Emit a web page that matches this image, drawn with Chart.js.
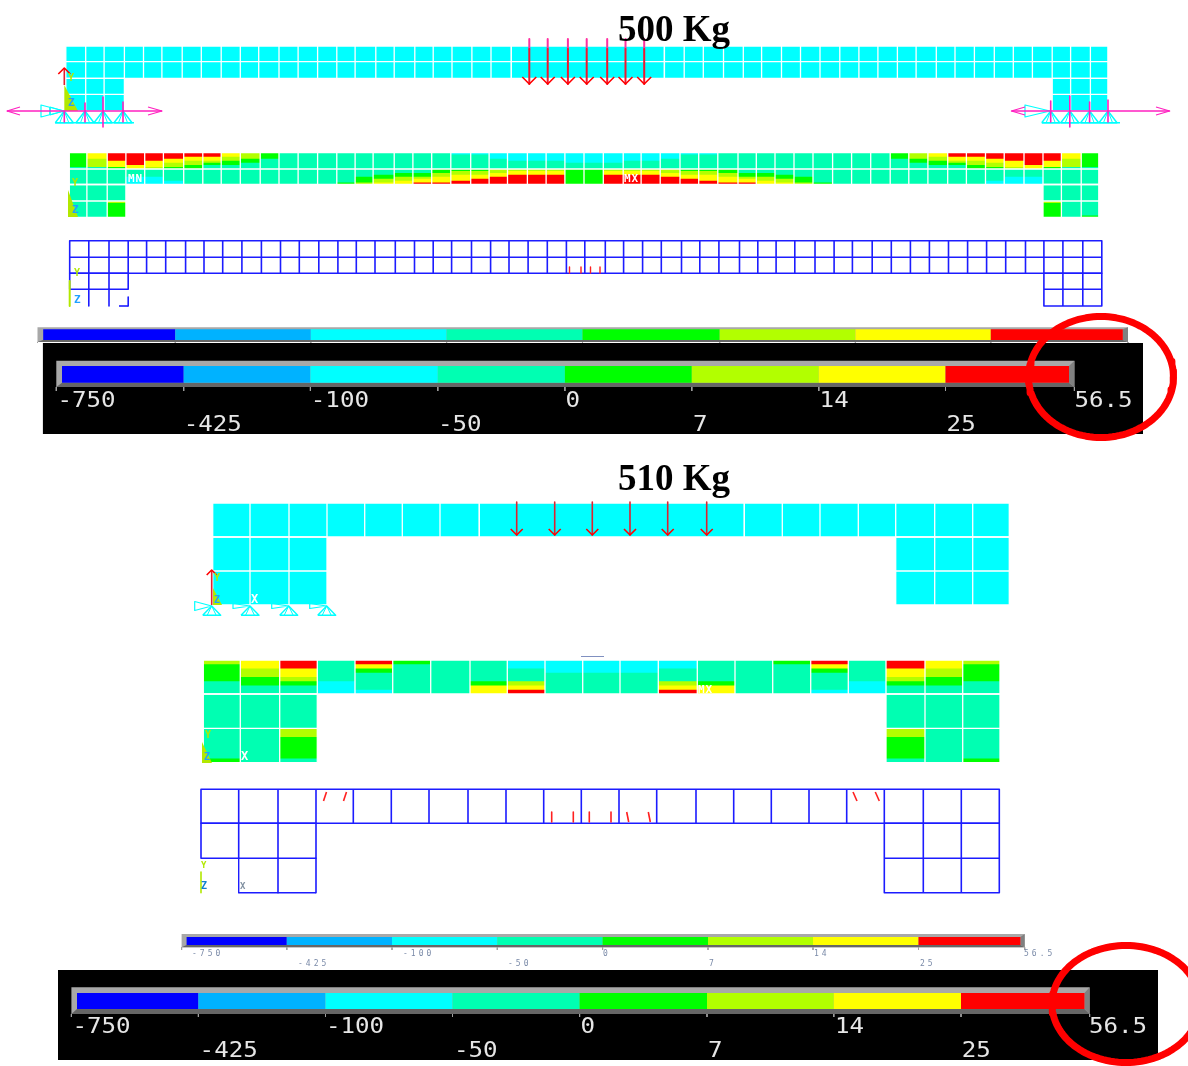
<!DOCTYPE html>
<html>
<head>
<meta charset="utf-8">
<title>500 Kg / 510 Kg</title>
<script src="https://cdn.jsdelivr.net/npm/chart.js@4"></script>
<style>
  html, body { margin: 0; background: #fff; overflow: hidden; }
  canvas { display: block; }
</style>
</head>
<body>
<canvas id="plot" width="1188" height="1066"></canvas>
<script>
// contour legend
const levelColors = ["#0000ff", "#00b2ff", "#00ffff", "#00ffb2", "#00ff00", "#b2ff00", "#ffff00", "#ff0000"];
const levelLabels = ["-750", "-425", "-100", "-50", "0", "7", "14", "25", "56.5"];

// T = a cell that is all level 3. each string is one cell, 8 slices top to bottom, digit = legend level
const T = "33333333";

const contour500Top = ["44444443", "66655553", "77776664", "77777766", "77776665", "77766554", "77665544", "77665433", "66554433", "55544333", "44433333",
    T, T, T, T, T, T, T, T, T,
    "23333333", "23333333", "22233333", "22223333", "22223333", "22223333", "22222333", "22222333", "22222333", "22223333", "22223333", "22233333", "23333333", "23333333",
    T, T, T, T, T, T, T, T, T,
    "44433333", "55544333", "66554433", "77665433", "77665544", "77766554", "77776665", "77777766", "77776664", "66655553", "44444443"];
const contour500Bottom = [T, T, T, "33332222", "33332222", "33333322", T, T, T, T, T, T, T, T,
    "33333334", "33334445", "33344556", "33445566", "33445667", "44556667", "45566677", "45566777", "55667777", "56677777", "56677777", "56677777",
    "44444444", "44444444",
    "56677777", "56677777", "56677777", "55667777", "45566777", "45566677", "44556667", "33445667", "33445566", "33344556", "33334445", "33333334",
    T, T, T, T, T, T, T, T, "33333322", "33332222", "33332222", T, T, T];
const contour500LegLeft = [[T, T, T], [T, T, "54444444"]];
const contour500LegRight = [[T, T, T], ["54444444", T, "33333334"]];

const contour510Top = ["54444333", "66554433", "77665433", "33333222", "76433332", "43333333", T, "33333466", "22333567", "22233333", "22233333",
    "22233333", "22333567", "33333466", T, "43333333", "76433332", "33333222", "77665433", "66554433", "54444333"];
const contour510LegLeft = [[T, T, T], ["33333334", T, "55444443"]];
const contour510LegRight = [[T, T, T], ["55444443", T, "33333334"]];

// cell edges
const solid500X = [65.8, 85.7, 104.1, 124.4, 143.5, 161.9, 182.2, 201.3, 221.2, 240.3, 258.7, 279, 298.1, 317.6, 336.8, 355.1, 375.8, 394.2, 414.8, 433.2, 452, 471.9, 491, 511.3,
    664.4, 684.2, 703.3, 723.5, 743.3, 761.6, 781.5, 800.5, 820, 839.8, 858.9, 877.9, 897.4, 916.1, 936.3, 955, 974.4, 994.3, 1013.3, 1032.4, 1052.2, 1070.6, 1090.4, 1107.9];
const solid500Y = [46, 61.7, 78.3, 94.3, 111];
const contour500X = [69.3, 86.9, 107.2, 125.9, 144.7, 163.4, 183.7, 202.8, 221.2, 240.3, 260.2, 279, 298.1, 317.6, 336.8, 355.1, 373.1, 394.2, 412.9, 431.7, 450.8, 470.7, 489.1, 507.5, 527.4, 546.1, 564.9, 584,
    603.3, 623.2, 641.1, 660.2, 680, 698.7, 717.8, 738, 756.3, 775, 794, 813, 832.6, 851.6, 870.7, 890.2, 908.8, 927.9, 947.7, 966.4, 985.5, 1004.2, 1024, 1043, 1061.4, 1081.2, 1098.8];
const contour500Y = [152.5, 169, 184.5, 201, 217.5];
const mesh500X = [69.7, 88.8, 109, 128.2, 146.6, 165.7, 185.6, 204, 222.7, 241.9, 261.4, 280.5, 299.3, 318.8, 337.9, 356.3, 375, 395.3, 414.5, 433.2, 451.6, 471.5, 490.6, 509, 528.1, 547.3, 566.4, 584.8,
    605.3, 623.6, 642.6, 661.3, 681.5, 699.8, 718.9, 739.5, 757.8, 776.1, 794.8, 815, 834.1, 852.4, 872.2, 891.3, 910.4, 929.4, 948.5, 967.6, 986.6, 1005.7, 1025.5, 1043.9, 1062.9, 1082.8, 1101.8];
const mesh500Y = [240.7, 257.3, 273.3, 289.3, 306];

const solid510X = [212.7, 250, 289, 327, 364.7, 402.3, 440, 479.3, 744.3, 782.3, 820, 858.3, 895.7, 934.7, 972.7, 1009.3];
const solid510Y = [503, 537, 571, 605];
const contour510X = [203.3, 240.3, 279.7, 317.3, 355, 392.7, 430.7, 470, 507.3, 545, 582.7, 620, 658.3, 697.3, 735, 772.7, 810.7, 848.3, 886, 925, 962.7, 1000];
const contour510Y = [660, 694, 728.3, 762.7];
const mesh510X = [201, 238.7, 278, 316, 353.3, 391.3, 429, 468, 506, 543.7, 581.3, 619, 656.7, 696, 733.7, 771.3, 809, 846.7, 884.3, 923.3, 961.3, 999.3];
const mesh510Y = [789.3, 823.3, 858.3, 892.7];

// load and support nodes
const load500X = [529.3, 547.7, 567.9, 586.7, 607.2, 625.5, 644.2];
const load510X = [516.7, 554.7, 592.3, 630, 667.7, 706.7];
const support500LeftX = [64.3, 85, 103, 123];
const support500RightX = [1050.7, 1069.8, 1089.6, 1108];
const support510X = [211.7, 250, 288.7, 326.7];

// legend bar breaks
const barTopX = [43.2, 175.3, 310.8, 446.6, 582.5, 719.7, 855.4, 990.8, 1122.8];
const barLowX = [62, 183.7, 310.4, 437.8, 564.9, 691.8, 818.8, 945.5, 1069];
const barSmallX = [186.6, 286.8, 392, 497.3, 602.6, 708, 813, 918.5, 1020.4];
const barLow2X = [77, 198.4, 325.5, 452.5, 579.6, 707, 833.8, 961, 1084.5];

const datasets = [];
const labels = [];
const meshBlue = "#1c1cff";

function stroke(points, color, width) {
    datasets.push({ data: points, showLine: true, borderColor: color, borderWidth: width, pointRadius: 0, fill: false, spanGaps: false, borderCapStyle: "butt", borderJoinStyle: "round" });
}
function polygon(points, color) {
    datasets.push({ data: points.concat([points[0]]), showLine: true, borderWidth: 0, borderColor: "transparent", backgroundColor: color, pointRadius: 0, fill: "shape" });
}
function rect(x0, y0, x1, y1, color) {
    polygon([{ x: x0, y: y0 }, { x: x1, y: y0 }, { x: x1, y: y1 }, { x: x0, y: y1 }], color);
}
function seg(x0, y0, x1, y1, color, width) {
    stroke([{ x: x0, y: y0 }, { x: x1, y: y1 }], color, width);
}
function text(t, x, y, font, color, spacing, stretch) {
    labels.push({ t, x, y, font, color, spacing: spacing || 0, stretch: stretch || 1 });
}

// grid lines of one block, all in one dataset with gaps
function grid(xs, ys, color, width) {
    const pts = [];
    for (const x of xs) {
        pts.push({ x: x, y: ys[0] }, { x: x, y: ys[ys.length - 1] }, { x: null, y: null });
    }
    for (const y of ys) {
        pts.push({ x: xs[0], y: y }, { x: xs[xs.length - 1], y: y }, { x: null, y: null });
    }
    stroke(pts, color, width);
}

// one contour cell: paint each run down to the cell bottom so no seams show
function cell(code, x0, x1, y0, y1) {
    let last = -1;
    for (let i = 0; i < code.length; i++) {
        const level = Number(code[i]);
        if (level !== last) {
            rect(x0, y0 + (y1 - y0) * i / code.length, x1, y1, levelColors[level]);
            last = level;
        }
    }
}
function cellRow(codes, xs, y0, y1) {
    codes.forEach((code, i) => cell(code, xs[i], xs[i + 1], y0, y1));
}

function downArrow(x, y0, y1, head, topColor, beamTop) {
    if (topColor) {
        seg(x, y0, x, beamTop + 3, topColor, 2);
        seg(x, beamTop + 3, x, y1, "#f01830", 2);
    } else {
        seg(x, y0, x, y1, "#e02030", 1.6);
    }
    stroke([{ x: x - head, y: y1 - head }, { x: x, y: y1 }, { x: x + head, y: y1 - head }], "#ff0000", 1.6);
}

function support(x, y0, y1, half) {
    stroke([{ x: x - half, y: y1 }, { x: x, y: y0 }, { x: x + half, y: y1 }, { x: x - half, y: y1 }], "#00ffff", 1.4);
    seg(x - half / 2, y1, x, y0, "#00ffff", 1);
    seg(x + half / 2, y1, x, y0, "#00ffff", 1);
}
function sideSupport(x, y, length, half, width) {
    stroke([{ x: x, y: y }, { x: x - length, y: y - half }, { x: x - length, y: y + half }, { x: x, y: y }], "#00ffff", width);
}

function legendBar(xs, outerLeft, outerRight, outerTop, innerTop, innerBottom, outerBottom, tickEnd) {
    rect(outerLeft, outerTop, outerRight, outerBottom, "#a8a8a8");
    polygon([{ x: outerLeft, y: outerBottom }, { x: xs[0], y: innerBottom }, { x: xs[8], y: innerBottom }, { x: outerRight, y: outerBottom }], "#666666");
    polygon([{ x: outerRight, y: outerTop }, { x: xs[8], y: innerTop }, { x: xs[8], y: innerBottom }, { x: outerRight, y: outerBottom }], "#808080");
    for (let i = 0; i < 8; i++) {
        rect(xs[i], innerTop, xs[i + 1], innerBottom, levelColors[i]);
    }
    const ticks = [];
    [outerLeft].concat(xs.slice(1, 8), [outerRight]).forEach(x => ticks.push({ x: x, y: outerBottom }, { x: x, y: tickEnd }, { x: null, y: null }));
    stroke(ticks, "#a0a0a0", 1);
}
function ring(cx, cy, rx, ry) {
    const pts = [];
    for (let a = 0; a <= 120; a++) {
        pts.push({ x: cx + rx * Math.cos(a * Math.PI / 60), y: cy + ry * Math.sin(a * Math.PI / 60) });
    }
    stroke(pts, "#ff0000", 7);
}

// ---- 500 Kg, solid model
rect(solid500X[0], solid500Y[0], solid500X[47], solid500Y[2], "#00ffff");
rect(solid500X[0], solid500Y[2], solid500X[3], solid500Y[4], "#00ffff");
rect(solid500X[44], solid500Y[2], solid500X[47], solid500Y[4], "#00ffff");
grid(solid500X.slice(0, 24), solid500Y.slice(0, 3), "#ffffff", 1.3);
grid(solid500X.slice(24), solid500Y.slice(0, 3), "#ffffff", 1.3);
// no verticals under the load, the row lines run through
grid(solid500X.slice(23, 25), solid500Y.slice(0, 3), "#ffffff", 1.3);
grid(solid500X.slice(0, 4), solid500Y.slice(2), "#ffffff", 1.3);
grid(solid500X.slice(44), solid500Y.slice(2), "#ffffff", 1.3);
load500X.forEach(x => downArrow(x, 39, 84, 7, "#ff30a0", 46));

// left support
polygon([{ x: 64.3, y: 85 }, { x: 78, y: 111 }, { x: 64.3, y: 111 }], "#b2e800");
downArrow(64.3, 85, 68, -6);
text("Y", 68, 81, "bold 10px 'DejaVu Sans Mono'", "#b2e800");
text("Z", 68, 106, "bold 11px 'DejaVu Sans Mono'", "#20a0ff");
sideSupport(64, 111, 23, 6, 1.2);
sideSupport(64, 111, 14, 4, 1);
seg(55, 122.7, 134, 122.7, "#00ffff", 1.4);
support500LeftX.forEach(x => support(x, 111, 122.7, 9));
[[64.3, 111, 122], [85, 103, 122], [103, 97, 127], [123, 102, 122]].forEach((n, i) => {
    seg(support500LeftX[i], n[1], support500LeftX[i], n[2], "#ff20c0", 1.6);
});
seg(7, 111, 162, 111, "#ff20c0", 1.5);
stroke([{ x: 20, y: 107 }, { x: 7, y: 111 }, { x: 20, y: 115 }], "#ff20c0", 1.2);
stroke([{ x: 148, y: 107 }, { x: 162, y: 111 }, { x: 148, y: 115 }], "#ff20c0", 1.2);

// right support
sideSupport(1050, 111, 25, 6, 1.2);
seg(1042, 122.7, 1120, 122.7, "#00ffff", 1.4);
support500RightX.forEach(x => support(x, 111, 122.7, 9));
[[1050.7, 101, 122], [1069.8, 96, 127], [1089.6, 102, 122], [1108, 100, 122]].forEach(n => {
    seg(n[0], n[1], n[0], n[2], "#ff20c0", 1.6);
});
seg(1011.4, 111, 1169.7, 111, "#ff20c0", 1.5);
stroke([{ x: 1025, y: 107 }, { x: 1011.4, y: 111 }, { x: 1025, y: 115 }], "#ff20c0", 1.2);
stroke([{ x: 1156, y: 107 }, { x: 1169.7, y: 111 }, { x: 1156, y: 115 }], "#ff20c0", 1.2);

// ---- 500 Kg, contour
cellRow(contour500Top, contour500X, contour500Y[0], contour500Y[1]);
cellRow(contour500Bottom, contour500X, contour500Y[1], contour500Y[2]);
contour500LegLeft.forEach((r, i) => cellRow(r, contour500X.slice(0, 4), contour500Y[i + 2], contour500Y[i + 3]));
contour500LegRight.forEach((r, i) => cellRow(r, contour500X.slice(51), contour500Y[i + 2], contour500Y[i + 3]));
grid(contour500X, contour500Y.slice(0, 3), "#ffffff", 1.3);
grid(contour500X.slice(0, 4), contour500Y.slice(2), "#ffffff", 1.3);
grid(contour500X.slice(51), contour500Y.slice(2), "#ffffff", 1.3);
polygon([{ x: 68, y: 190 }, { x: 78, y: 217 }, { x: 68, y: 217 }], "#b2e800");
text("Y", 72, 186, "bold 10px 'DejaVu Sans Mono'", "#b2e800");
text("Z", 72, 213, "bold 11px 'DejaVu Sans Mono'", "#20a0ff");
text("MN", 128, 182, "bold 11px 'DejaVu Sans Mono'", "#ffffff", 1);
text("MX", 624, 182, "bold 11px 'DejaVu Sans Mono'", "#ffffff", 1);

// ---- 500 Kg, mesh with cracks
grid(mesh500X, mesh500Y.slice(0, 3), meshBlue, 1.6);
grid(mesh500X.slice(0, 4), mesh500Y.slice(2, 4), meshBlue, 1.6);
seg(mesh500X[1], mesh500Y[3], mesh500X[1], mesh500Y[4], meshBlue, 1.6);
seg(mesh500X[2], mesh500Y[3], mesh500X[2], mesh500Y[4], meshBlue, 1.6);
seg(mesh500X[3], 297, mesh500X[3], mesh500Y[4], meshBlue, 1.6);
seg(119, mesh500Y[4], mesh500X[3], mesh500Y[4], meshBlue, 1.6);
grid(mesh500X.slice(51), mesh500Y.slice(2), meshBlue, 1.6);
seg(mesh500X[0], 281, mesh500X[0], mesh500Y[4], "#b2e800", 2);
text("Y", 74, 276, "bold 10px 'DejaVu Sans Mono'", "#b2e800");
text("Z", 74, 303, "bold 11px 'DejaVu Sans Mono'", "#20a0ff");
[569.5, 581, 590.5, 600].forEach(x => seg(x, 267, x, 273, "#ff2020", 1.4));

// ---- 500 Kg, legend bars
legendBar(barTopX, 37.5, 1128, 327.3, 329.3, 340, 342, 343);
rect(42.9, 343, 1143, 434, "#000000");
legendBar(barLowX, 56.3, 1074.4, 360.7, 366, 382.7, 387, 391);
levelLabels.forEach((t, i) => {
    const x = [57.4, 183.7, 310.8, 438, 565.6, 693, 819.6, 946.6, 1074.4][i];
    text(t, x, i % 2 ? 431 : 407, "21px 'DejaVu Sans Mono'", "#e6e6e6", 0, 1.15);
});
ring(1101, 377, 72.5, 60.5);

// ---- 510 Kg, solid model
rect(solid510X[0], solid510Y[0], solid510X[15], solid510Y[1], "#00ffff");
rect(solid510X[0], solid510Y[1], solid510X[3], solid510Y[3], "#00ffff");
rect(solid510X[12], solid510Y[1], solid510X[15], solid510Y[3], "#00ffff");
grid(solid510X.slice(0, 8), solid510Y.slice(0, 2), "#ffffff", 1.3);
grid(solid510X.slice(8), solid510Y.slice(0, 2), "#ffffff", 1.3);
grid(solid510X.slice(7, 9), solid510Y.slice(0, 2), "#ffffff", 1.3);
grid(solid510X.slice(0, 4), solid510Y.slice(1), "#ffffff", 1.3);
grid(solid510X.slice(12), solid510Y.slice(1), "#ffffff", 1.3);
load510X.forEach(x => downArrow(x, 502, 535, 6));
polygon([{ x: 213, y: 588 }, { x: 222, y: 605 }, { x: 213, y: 605 }], "#b2e800");
downArrow(211.7, 605, 570, -5);
text("Y", 214, 581, "bold 10px 'DejaVu Sans Mono'", "#b2e800");
text("Z", 214, 603, "bold 10px 'DejaVu Sans Mono'", "#20a0ff");
text("X", 251, 603, "bold 12px 'DejaVu Sans Mono'", "#ffffff");
support510X.forEach((x, i) => {
    support(x, 606, 615.3, 9);
    sideSupport(x, 606, 17, i ? 2.5 : 4.5, 1.2);
});

// ---- 510 Kg, contour
cellRow(contour510Top, contour510X, contour510Y[0], contour510Y[1]);
contour510LegLeft.forEach((r, i) => cellRow(r, contour510X.slice(0, 4), contour510Y[i + 1], contour510Y[i + 2]));
contour510LegRight.forEach((r, i) => cellRow(r, contour510X.slice(18), contour510Y[i + 1], contour510Y[i + 2]));
grid(contour510X, contour510Y.slice(0, 2), "#ffffff", 1.3);
grid(contour510X.slice(0, 4), contour510Y.slice(1), "#ffffff", 1.3);
grid(contour510X.slice(18), contour510Y.slice(1), "#ffffff", 1.3);
polygon([{ x: 202, y: 742 }, { x: 212, y: 763 }, { x: 202, y: 763 }], "#b2e800");
text("Y", 205, 738, "bold 10px 'DejaVu Sans Mono'", "#b2e800");
text("Z", 204, 760, "bold 10px 'DejaVu Sans Mono'", "#20a0ff");
text("X", 241, 760, "bold 12px 'DejaVu Sans Mono'", "#ffffff");
text("MX", 698, 693, "bold 11px 'DejaVu Sans Mono'", "#ffffff", 1);
seg(581, 656.5, 604, 656.5, "#8090c0", 1);

// ---- 510 Kg, mesh with cracks
grid(mesh510X, mesh510Y.slice(0, 2), meshBlue, 1.6);
grid(mesh510X.slice(0, 4), mesh510Y.slice(1, 3), meshBlue, 1.6);
seg(mesh510X[1], mesh510Y[2], mesh510X[1], mesh510Y[3], meshBlue, 1.4);
seg(mesh510X[2], mesh510Y[2], mesh510X[2], mesh510Y[3], meshBlue, 1.6);
seg(mesh510X[3], mesh510Y[2], mesh510X[3], mesh510Y[3], meshBlue, 1.6);
seg(mesh510X[1], mesh510Y[3], mesh510X[3], mesh510Y[3], meshBlue, 1.4);
grid(mesh510X.slice(18), mesh510Y.slice(1), meshBlue, 1.6);
seg(mesh510X[0], 872, mesh510X[0], mesh510Y[3], "#b2e800", 1.6);
text("Y", 201, 868, "bold 9px 'DejaVu Sans Mono'", "#b2e800");
text("Z", 201, 889, "bold 10px 'DejaVu Sans Mono'", "#1080d0");
text("X", 240, 889, "bold 9px 'DejaVu Sans Mono'", "#8090a0");
[[325, 1.5], [345, 1.5]].forEach(c => seg(c[0] - c[1], 801, c[0] + c[1], 792, "#ff2020", 1.6));
[551.7, 573.3, 589.3, 611].forEach(x => seg(x, 812, x, 822, "#ff2020", 1.6));
[627.7, 649.3].forEach(x => seg(x - 1, 812, x + 1, 822, "#ff2020", 1.6));
[855, 877.3].forEach(x => seg(x - 2, 792, x + 2, 801, "#ff2020", 1.6));

// ---- 510 Kg, legend bars
legendBar(barSmallX, 181.6, 1024.7, 934, 937, 945, 947.3, 950);
levelLabels.forEach((t, i) => {
    text(t, [192, 298, 403, 508, 603, 709, 814, 920, 1024][i], i % 2 ? 966 : 956, "8px 'DejaVu Sans Mono'", "#7a8aa8", 3);
});
rect(58, 970, 1158, 1060, "#000000");
legendBar(barLow2X, 71.4, 1089.6, 987.3, 993, 1009, 1014, 1017);
levelLabels.forEach((t, i) => {
    const x = [72.5, 199.6, 326, 454, 580.4, 708, 835, 961.7, 1089][i];
    text(t, x, i % 2 ? 1056.7 : 1033, "21px 'DejaVu Sans Mono'", "#e6e6e6", 0, 1.15);
});
ring(1126, 1004, 74, 58.5);

text("500 Kg", 618, 41, "bold 37px 'Liberation Serif'", "#000000");
text("510 Kg", 618, 490, "bold 37px 'Liberation Serif'", "#000000");

const textLayer = {
    id: "textLayer",
    afterDatasetsDraw(chart) {
        const { ctx, scales } = chart;
        for (const l of labels) {
            ctx.save();
            ctx.textBaseline = "alphabetic";
            ctx.font = l.font;
            ctx.fillStyle = l.color;
            ctx.letterSpacing = l.spacing + "px";
            ctx.translate(scales.x.getPixelForValue(l.x), scales.y.getPixelForValue(l.y));
            ctx.scale(l.stretch, 1);
            ctx.fillText(l.t, 0, 0);
            ctx.restore();
        }
    }
};

// first dataset is drawn last by chart.js, so flip to keep paint order
new Chart(document.getElementById("plot").getContext("2d"), {
    type: "scatter",
    data: { datasets: datasets.reverse() },
    options: {
        responsive: false,
        animation: false,
        events: [],
        layout: { padding: 0 },
        elements: { line: { tension: 0 } },
        scales: {
            x: { type: "linear", min: 0, max: 1188, display: false },
            y: { type: "linear", min: 0, max: 1066, reverse: true, display: false }
        },
        plugins: { legend: { display: false }, tooltip: { enabled: false } }
    },
    plugins: [textLayer]
});
</script>
</body>
</html>
